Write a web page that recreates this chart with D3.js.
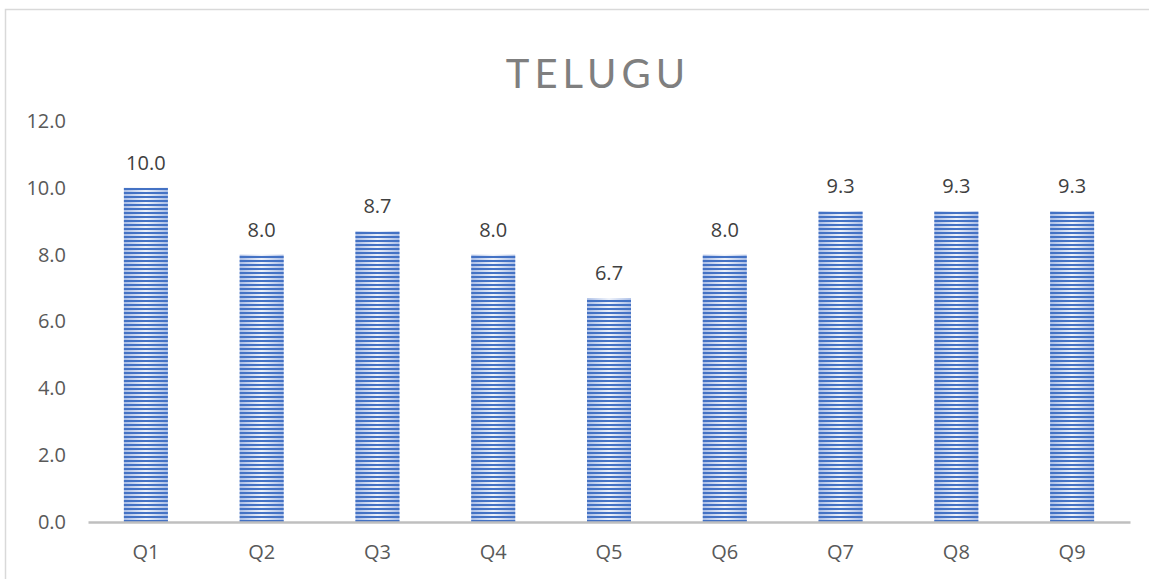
<!DOCTYPE html>
<html lang="en">
<head>
<meta charset="utf-8">
<title>TELUGU</title>
<script src="https://d3js.org/d3.v7.min.js"></script>
<style>
  body { margin: 0; background: #fff; }
  svg { display: block; font-family: 'Open Sans', sans-serif; }
</style>
</head>
<body>
<div id="chart"></div>
<script>

/* Data */
/* ==== */

var categories = ['Q1', 'Q2', 'Q3', 'Q4', 'Q5', 'Q6', 'Q7', 'Q8', 'Q9'];
var values = [10.0, 8.0, 8.7, 8.0, 6.7, 8.0, 9.3, 9.3, 9.3];
var yTicks = [0, 2, 4, 6, 8, 10, 12];
var title = 'TELUGU';


/* Setup */
/* ===== */

var width = 1149,
    height = 579,
    labelSize = 20;

var svg = d3.select('#chart').append('svg')
    .attr('width', width)
    .attr('height', height);

// Chart frame (only top and left edges visible)
svg.append('path')
    .attr('d', 'M5.5,579 V9.5 H1149')
    .attr('fill', 'none')
    .attr('stroke', '#d9d9d9')
    .attr('stroke-width', 1.5);

var x = d3.scaleBand()
    .domain(categories)
    .range([88, 1130])
    .paddingInner(0.62)
    .paddingOuter(0.31);

var y = d3.scaleLinear()
    .domain([0, 12])
    .range([522, 121]);


/* Bar fill: striped with soft horizontal shading */
/* ============================================== */

var defs = svg.append('defs');

var grad = defs.append('linearGradient')
    .attr('id', 'shade')
    .attr('x1', 0).attr('x2', 1).attr('y1', 0).attr('y2', 0);
grad.append('stop').attr('offset', '0%').attr('stop-color', '#a9bde6');
grad.append('stop').attr('offset', '50%').attr('stop-color', '#eef2fa');
grad.append('stop').attr('offset', '100%').attr('stop-color', '#a9bde6');

var stripes = defs.append('pattern')
    .attr('id', 'stripes')
    .attr('patternUnits', 'userSpaceOnUse')
    .attr('width', 8)
    .attr('height', 4);
stripes.append('rect')
    .attr('width', 8)
    .attr('height', 2)
    .attr('fill', '#4472c4');


/* Axes */
/* ==== */

var yAxis = svg.append('g')
    .attr('transform', 'translate(66,0)')
    .call(d3.axisLeft(y).tickValues(yTicks).tickSize(0).tickPadding(0)
      .tickFormat(d3.format('.1f')));
yAxis.select('.domain').remove();
yAxis.selectAll('text')
    .attr('fill', '#595959')
    .attr('font-size', labelSize)
    .attr('font-family', "'Open Sans', sans-serif");


/* Bars */
/* ==== */

var bars = svg.append('g');

bars.selectAll('rect.base')
    .data(values)
    .join('rect')
    .attr('class', 'base')
    .attr('x', function(d, i) { return x(categories[i]); })
    .attr('y', function(d) { return y(d); })
    .attr('width', x.bandwidth())
    .attr('height', function(d) { return y(0) - y(d); })
    .attr('fill', 'url(#shade)');

bars.selectAll('rect.stripe')
    .data(values)
    .join('rect')
    .attr('class', 'stripe')
    .attr('x', function(d, i) { return x(categories[i]); })
    .attr('y', function(d) { return y(d); })
    .attr('width', x.bandwidth())
    .attr('height', function(d) { return y(0) - y(d); })
    .attr('fill', 'url(#stripes)');

// Data labels
bars.selectAll('text')
    .data(values)
    .join('text')
    .attr('x', function(d, i) { return x(categories[i]) + x.bandwidth() / 2; })
    .attr('y', function(d) { return y(d) - 18; })
    .attr('text-anchor', 'middle')
    .attr('font-size', labelSize)
    .attr('fill', '#404040')
    .text(function(d) { return d3.format('.1f')(d); });

// X axis line and labels
var xAxis = svg.append('g')
    .attr('transform', 'translate(0,' + y(0) + ')')
    .call(d3.axisBottom(x).tickSize(0).tickPadding(23));
xAxis.select('.domain')
    .attr('stroke', '#bfbfbf')
    .attr('stroke-width', 2.5);
xAxis.selectAll('text')
    .attr('fill', '#595959')
    .attr('font-size', labelSize)
    .attr('font-family', "'Open Sans', sans-serif");


/* Title */
/* ===== */

svg.append('text')
    .attr('x', 598)
    .attr('y', 88)
    .attr('text-anchor', 'middle')
    .attr('font-family', "'Lato', sans-serif")
    .attr('font-size', 40)
    .attr('letter-spacing', 5)
    .attr('fill', '#7f7f7f')
    .text(title);

</script>
</body>
</html>
